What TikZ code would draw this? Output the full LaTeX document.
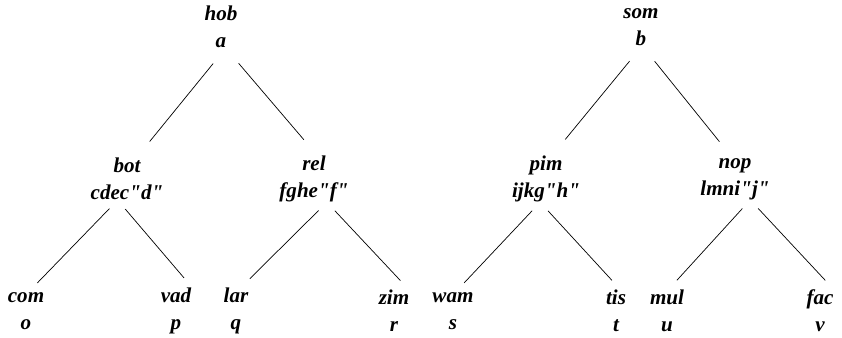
\documentclass[tikz,border=0pt]{standalone}
\usepackage{fontspec}
\setmainfont{Liberation Serif}[Ligatures=TeXOff]
\usepackage{tikz}
\usetikzlibrary{positioning}
\tikzstyle{branch} = [line width=0.6pt]
\tikzset{every node/.style={align=center}}

\begin{document}
\begin{tikzpicture}[x=0.03cm, y=-0.03cm,
    word/.style={inner sep=0pt, font=\fontsize{18}{23}\selectfont\bfseries\itshape},
    upper/.style={branch, shorten <=17pt, shorten >=18pt},
    lower/.style={branch, shorten <=10pt, shorten >=11pt}
]
  \useasboundingbox (0,0) rectangle (842,338);

  % --- left tree ---
  \node[word] (hob) at (221, 27)  {hob\\a};
  \node[word] (bot) at (127, 179) {bot\\cdec"d"};
  \node[word] (rel) at (314, 179) {rel\\fghe"f"};
  \node[word] (com) at (26,  311) {com\\o};
  \node[word] (vad) at (176, 311) {vad\\p};
  \node[word] (lar) at (236, 311) {lar\\q};
  \node[word] (zim) at (394, 311) {zim\\r};
  \draw[upper] ([xshift=4pt]hob.south) -- ([xshift=8pt]bot.north);
  \draw[upper] ([xshift=4pt]hob.south) -- ([xshift=3pt]rel.north);
  \draw[lower] ([xshift=-8pt]bot.south) -- ([xshift=2pt]com.north);
  \draw[lower] ([xshift=-8pt]bot.south) -- ([xshift=14pt]vad.north);
  \draw[lower] ([xshift=11pt]rel.south) -- ([xshift=4pt]lar.north);
  \draw[lower] ([xshift=11pt]rel.south) -- ([xshift=13pt]zim.north);

  % --- right tree ---
  \node[word] (som) at (641, 27)  {som\\b};
  \node[word] (pim) at (546, 179) {pim\\ijkg"h"};
  \node[word] (nop) at (735, 179) {nop\\lmni"j"};
  \node[word] (wam) at (453, 311) {wam\\s};
  \node[word] (tis) at (616, 311) {tis\\t};
  \node[word] (mul) at (667, 311) {mul\\u};
  \node[word] (fac) at (820, 311) {fac\\v};
  \draw[upper] ([xshift=1pt]som.south) -- ([xshift=5pt]pim.north);
  \draw[upper] ([xshift=1pt]som.south) -- ([xshift=-2pt]nop.north);
  \draw[lower] ([xshift=-5pt]pim.south) -- ([xshift=2pt]wam.north);
  \draw[lower] ([xshift=-5pt]pim.south) -- ([xshift=4pt]tis.north);
  \draw[lower] ([xshift=13pt]nop.south) -- ([xshift=1pt]mul.north);
  \draw[lower] ([xshift=13pt]nop.south) -- ([xshift=12pt]fac.north);
\end{tikzpicture}
\end{document}
